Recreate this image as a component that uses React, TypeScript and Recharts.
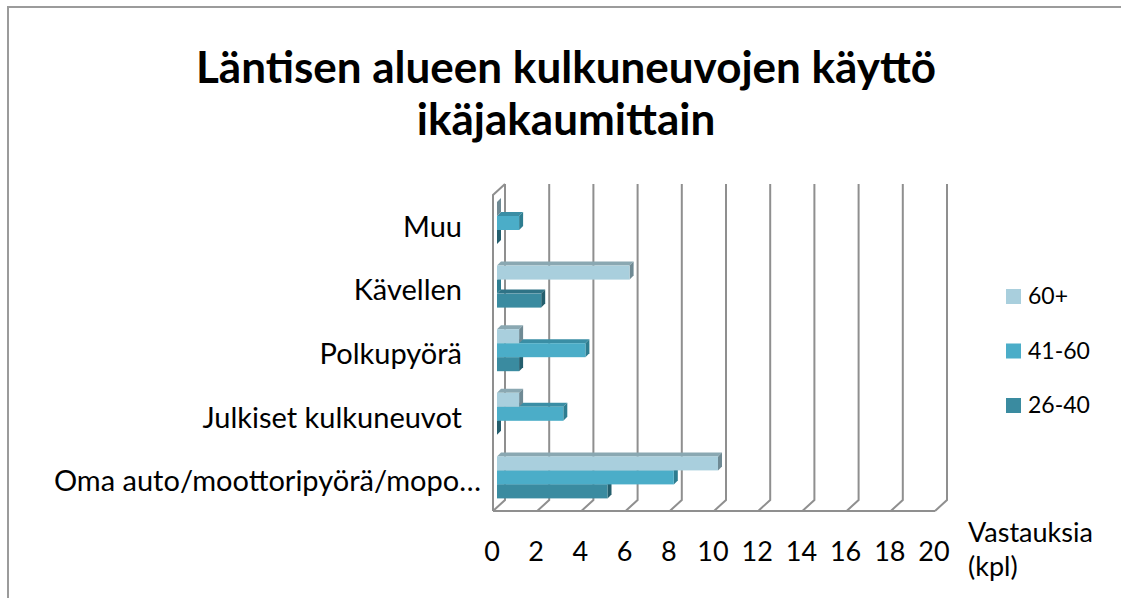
import React from 'react';
import { BarChart, Bar, XAxis, YAxis, CartesianGrid } from 'recharts';

// categories from top to bottom, as they appear in the chart
const categories = [
  'Muu',
  'Kävellen',
  'Polkupyörä',
  'Julkiset kulkuneuvot',
  'Oma auto/moottoripyörä/mopo…',
];
const age60plus = [0, 6, 1, 1, 10];
const age41to60 = [1, 0, 4, 3, 8];
const age26to40 = [0, 2, 1, 0, 5];
const xTicks = [0, 2, 4, 6, 8, 10, 12, 14, 16, 18, 20];

const FONT = 'Lato, "Open Sans", sans-serif';
const BAR = 14;
const DEPTH = 4;
const GRID = '#8f8f8f';

const series = [
  { key: 'a60', name: '60+', front: '#a9cfdd', top: '#8aa8b2', side: '#6f8a94' },
  { key: 'a4160', name: '41-60', front: '#4badc8', top: '#3a8ea5', side: '#2e7d90' },
  { key: 'a2640', name: '26-40', front: '#3a8ba0', top: '#2f7386', side: '#245e6d' },
];

const data = categories.map((name, i) => ({
  name,
  a60: age60plus[i],
  a4160: age41to60[i],
  a2640: age26to40[i],
}));

// Bars are declared bottom series first so the upper bars paint over the
// 3D top faces of the ones below; the shift puts each bar back in its slot.
function bar3D(front: string, top: string, side: string, shift: number) {
  return (props: any) => {
    const { x, width, height } = props;
    const y = props.y + shift;
    const w = Math.max(width || 0, 0);
    const d = DEPTH;
    return (
      <g>
        <polygon
          points={`${x},${y} ${x + d},${y - d} ${x + w + d},${y - d} ${x + w},${y}`}
          fill={top}
        />
        <polygon
          points={`${x + w},${y} ${x + w + d},${y - d} ${x + w + d},${y + height - d} ${x + w},${y + height}`}
          fill={side}
        />
        <rect x={x} y={y} width={w} height={height} fill={front} />
      </g>
    );
  };
}

function renderVLine(props: any) {
  const { x1, y1, y2, index, x, width } = props;
  const back = x1 + 8;
  const front = x1 - 4;
  const topY = y1 - 7;
  const floorBack = y2 - 9;
  const floorFront = y2 + 2;
  return (
    <g key={`v-${index}`}>
      <polyline
        points={`${back},${topY} ${back},${floorBack} ${front},${floorFront}`}
        fill="none"
        stroke={GRID}
        strokeWidth={2}
      />
      {index === 0 && (
        <>
          <polyline
            points={`${front},${floorFront} ${front},${y1 + 4} ${back},${topY}`}
            fill="none"
            stroke={GRID}
            strokeWidth={2}
          />
          <line
            x1={x - 4}
            y1={floorFront}
            x2={x + width - 4}
            y2={floorFront}
            stroke={GRID}
            strokeWidth={2}
          />
        </>
      )}
    </g>
  );
}

function CategoryTick({ x, y, payload }: any) {
  const long = payload.value.length > 24;
  return (
    <text
      x={x + (long ? 19 : 0)}
      y={y}
      dy={14}
      textAnchor="end"
      fontSize={29}
      fontFamily={FONT}
      fill="#000"
    >
      {payload.value}
    </text>
  );
}

function ValueTick({ x, y, payload }: any) {
  return (
    <text
      x={x - 5}
      y={y}
      dy="0.71em"
      textAnchor="middle"
      fontSize={27}
      fontFamily={FONT}
      fill="#000"
    >
      {payload.value}
    </text>
  );
}

function AxisTitle({ viewBox }: any) {
  const lx = viewBox.x + viewBox.width + 29;
  return (
    <text x={lx} y={542} fontSize={27} fontFamily={FONT} fill="#000">
      <tspan x={lx}>Vastauksia</tspan>
      <tspan x={lx} dy={34}>(kpl)</tspan>
    </text>
  );
}

export default function App() {
  return (
    <div style={{ position: 'absolute', left: 0, top: 0, width: 1121, height: 598, background: '#fff' }}>
      <BarChart
        width={1121}
        height={598}
        data={data}
        layout="vertical"
        barSize={BAR}
        barGap={0}
        margin={{ top: 191, right: 182, bottom: 29, left: 0 }}
      >
        <CartesianGrid horizontal={false} vertical={renderVLine} />
        <XAxis
          type="number"
          domain={[0, 20]}
          ticks={xTicks}
          interval={0}
          tickLine={false}
          axisLine={false}
          height={60}
          tickMargin={27}
          tick={<ValueTick />}
          label={<AxisTitle />}
        />
        <YAxis
          type="category"
          dataKey="name"
          width={497}
          interval={0}
          tickLine={false}
          axisLine={false}
          tickMargin={29}
          tick={<CategoryTick />}
        />
        <Bar
          dataKey="a2640"
          name="26-40"
          isAnimationActive={false}
          shape={bar3D(series[2].front, series[2].top, series[2].side, 2 * BAR)}
        />
        <Bar
          dataKey="a4160"
          name="41-60"
          isAnimationActive={false}
          shape={bar3D(series[1].front, series[1].top, series[1].side, 0)}
        />
        <Bar
          dataKey="a60"
          name="60+"
          isAnimationActive={false}
          shape={bar3D(series[0].front, series[0].top, series[0].side, -2 * BAR)}
        />
      </BarChart>
      <svg
        width={1121}
        height={598}
        style={{ position: 'absolute', left: 0, top: 0, pointerEvents: 'none' }}
      >
        <polyline points="8,598 8,7 1121,7" fill="none" stroke="#9b9b9b" strokeWidth={2} />
        <text x={566} y={83} textAnchor="middle" fontSize={44} fontWeight={700} fontFamily={FONT} fill="#000">
          Läntisen alueen kulkuneuvojen käyttö
        </text>
        <text x={566} y={135} textAnchor="middle" fontSize={44} fontWeight={700} fontFamily={FONT} fill="#000">
          ikäjakaumittain
        </text>
        {series.map((s, i) => (
          <g key={s.key}>
            <rect x={1006} y={289 + i * 54.5} width={15} height={15} fill={s.front} />
            <text x={1028} y={304 + i * 54.5} fontSize={23} fontFamily={FONT} fill="#000">
              {s.name}
            </text>
          </g>
        ))}
      </svg>
    </div>
  );
}
